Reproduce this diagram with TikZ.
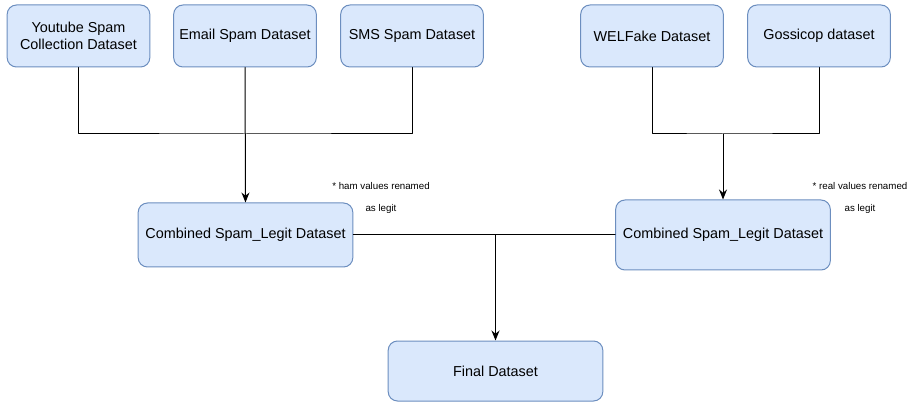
\documentclass[tikz,border=0pt]{standalone}
\usepackage{fontspec}
\setmainfont{Liberation Sans}
\usetikzlibrary{arrows.meta}
\definecolor{BoxFill}{HTML}{DAE8FC}
\definecolor{BoxLine}{HTML}{6C8EBF}

\begin{document}
\begin{tikzpicture}[x=0.75pt,y=-0.75pt,line cap=round,line join=round,
  box/.style={draw=BoxLine,fill=BoxFill,rounded corners=7pt,line width=0.75pt,inner sep=0pt,align=center,
    minimum width=107pt,minimum height=46.5pt,font=\fontsize{10.8}{13}\selectfont},
  bigbox/.style={box,minimum width=161pt,minimum height=#1},
  note/.style={align=center,inner sep=0pt,font=\fontsize{7.3}{17}\selectfont},
  link/.style={draw=black,line width=0.75pt},
  feed/.style={link,-{Stealth[length=7.5pt,width=6pt]}}]
  \useasboundingbox (0,0) rectangle (912,402);
  \node[box] (yt) at (78.5,36) {Youtube Spam\\Collection Dataset}; \node[box] (em) at (245,36) {Email Spam Dataset}; \node[box] (sms) at (412,36) {SMS Spam Dataset};
  \node[box] (wf) at (652,36) {WELFake Dataset}; \node[box] (gc) at (819,36) {Gossicop dataset};
  \node[bigbox=48pt] (cl) at (245.5,235) {Combined Spam\_Legit Dataset}; \node[bigbox=52.5pt] (cr) at (723,235) {Combined Spam\_Legit Dataset};
  \node[bigbox=45pt] (fd) at (495.5,371) {Final Dataset};
  \node[note] (nl) at (381,198) {* ham values renamed\\as legit}; \node[note] (nr) at (860,198) {* real values renamed\\as legit};
  \coordinate (jl) at (245,134); \coordinate (jr) at (723,134); \coordinate (jb) at (cl.east -| fd.north);
  \draw[link] (yt.south) |- (jl) -| (sms.south); \draw[feed] (em.south) -- (cl.north);
  \draw[link] (wf.south) |- (jr) -| (gc.south); \draw[feed] (jr) -- (cr.north);
  \draw[link] (cl.east) -- (cr.west); \draw[feed] (jb) -- (fd.north);
\end{tikzpicture}
\end{document}
